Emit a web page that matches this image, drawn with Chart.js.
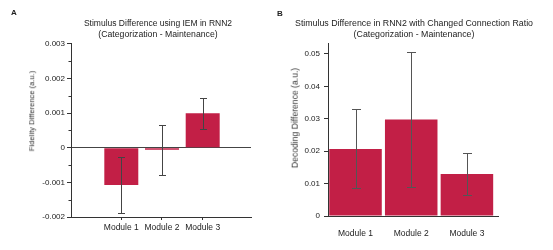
<!DOCTYPE html>
<html>
<head>
<meta charset="utf-8">
<script src="https://cdn.jsdelivr.net/npm/chart.js@4/dist/chart.umd.min.js"></script>
<style>
  body { margin: 0; background: #fff; }
  #wrap { position: relative; width: 553px; height: 250px; overflow: hidden;
          font-family: 'Liberation Sans', Arial, sans-serif; color: #222; }
  canvas { position: absolute; top: 0; }
  .t { position: absolute; white-space: nowrap; line-height: 1; transform: translate(-50%, -50%); }
  .rot { transform: translate(-50%, -50%) rotate(-90deg); }
</style>
</head>
<body>
<div id="wrap">
  <canvas id="chartA" width="276" height="250" style="left:0"></canvas>
  <canvas id="chartB" width="277" height="250" style="left:276px"></canvas>

  <div class="t" style="left:14px; top:13px; font-size:8px; font-weight:bold">A</div>
  <div class="t" style="left:158px; top:22.5px; font-size:8.5px">Stimulus Difference using IEM in RNN2</div>
  <div class="t" style="left:158px; top:33.5px; font-size:8.7px">(Categorization - Maintenance)</div>
  <div class="t rot" style="left:32px; top:111px; font-size:7.6px; color:#333">Fidelity Difference (a.u.)</div>

  <div class="t" style="left:280px; top:14px; font-size:8px; font-weight:bold">B</div>
  <div class="t" style="left:414px; top:22.5px; font-size:8.8px">Stimulus Difference in RNN2 with Changed Connection Ratio</div>
  <div class="t" style="left:414px; top:33.5px; font-size:8.8px">(Categorization - Maintenance)</div>
  <div class="t rot" style="left:295px; top:118px; font-size:8.6px; color:#333">Decoding Difference (a.u.)</div>
</div>

<script>
// データ
const categories = ['Module 1', 'Module 2', 'Module 3'];
const positions = [1, 2, 3];

const valuesA = [-0.00108, -0.00006, 0.00099];
const errorsA = [0.00081, 0.00072, 0.00044];
const yTicksA = [-0.002, -0.001, 0, 0.001, 0.002, 0.003];
const yMinorA = [-0.0015, -0.0005, 0.0005, 0.0015, 0.0025];

const valuesB = [0.0207, 0.0298, 0.0130];
const errorsB = [0.0122, 0.0209, 0.0064];
const yTicksB = [0, 0.01, 0.02, 0.03, 0.04, 0.05];

const barColor = '#c21f46';
const axisColor = '#333';
const tickFont = { family: "'Liberation Sans', Arial, sans-serif", size: 8 };

// エラーバーを描くプラグイン
const errorBars = {
    id: 'errorBars',
    afterDatasetsDraw(chart, args, opts) {
        const { ctx, scales: { x, y } } = chart;
        const data = chart.data.datasets[0].data;
        ctx.save();
        ctx.strokeStyle = opts.color;
        ctx.lineWidth = opts.width;
        data.forEach((d, i) => {
            const px = Math.round(x.getPixelForValue(d.x)) + 0.5;
            const hi = Math.round(y.getPixelForValue(d.y + opts.errors[i])) + 0.5;
            const lo = Math.round(y.getPixelForValue(d.y - opts.errors[i])) + 0.5;
            ctx.beginPath();
            ctx.moveTo(px, hi); ctx.lineTo(px, lo);
            ctx.moveTo(px - opts.cap, hi); ctx.lineTo(px + opts.cap, hi);
            ctx.moveTo(px - opts.cap, lo); ctx.lineTo(px + opts.cap, lo);
            ctx.stroke();
        });
        ctx.restore();
    }
};

// 小さい目盛り (Aのみ)
const minorTicks = {
    id: 'minorTicks',
    afterDraw(chart, args, opts) {
        if (!opts.values) return;
        const { ctx, scales: { y } } = chart;
        const left = y.right;
        ctx.save();
        ctx.strokeStyle = axisColor;
        ctx.lineWidth = 1;
        ctx.beginPath();
        opts.values.forEach(v => {
            const py = Math.round(y.getPixelForValue(v)) + 0.5;
            ctx.moveTo(left - opts.length, py);
            ctx.lineTo(left, py);
        });
        ctx.stroke();
        ctx.restore();
    }
};

function makeChart(id, cfg) {
    const ctx = document.getElementById(id).getContext('2d');
    return new Chart(ctx, {
        type: 'bar',
        data: {
            datasets: [{
                data: cfg.values.map((v, i) => ({ x: positions[i], y: v })),
                backgroundColor: barColor,
                borderWidth: 0,
                barPercentage: 1,
                categoryPercentage: cfg.barFrac,
            }]
        },
        options: {
            responsive: false,
            animation: false,
            layout: { padding: cfg.padding },
            plugins: {
                legend: { display: false },
                tooltip: { enabled: false },
                errorBars: { errors: cfg.errors, color: cfg.errColor, width: 1, cap: cfg.cap },
                minorTicks: { values: cfg.minor, length: 2.5 },
            },
            scales: {
                x: {
                    type: 'linear',
                    offset: false,
                    min: cfg.xMin,
                    max: cfg.xMax,
                    afterBuildTicks: s => { s.ticks = positions.map(v => ({ value: v })); },
                    afterFit: s => { s.height = cfg.xHeight; },
                    grid: cfg.xTicks
                        ? { offset: false, drawOnChartArea: false, tickLength: 3, tickColor: axisColor }
                        : { display: false },
                    border: { display: true, color: axisColor, width: 1 },
                    ticks: {
                        autoSkip: false, maxRotation: 0, padding: cfg.xPad,
                        color: '#222', font: { ...tickFont, size: 8.5 },
                        callback: v => categories[positions.indexOf(v)] || ''
                    }
                },
                y: {
                    min: cfg.yMin,
                    max: cfg.yMax,
                    afterBuildTicks: s => { s.ticks = cfg.yTicks.map(v => ({ value: v })); },
                    afterFit: s => { s.width = cfg.yWidth; },
                    grid: {
                        drawOnChartArea: true,
                        color: c => (cfg.zeroLine && c.tick && c.tick.value === 0) ? '#444' : 'rgba(0,0,0,0)',
                        tickColor: axisColor,
                        tickLength: 4,
                    },
                    border: { display: true, color: axisColor, width: 1 },
                    ticks: {
                        padding: cfg.yPad, color: '#222', font: tickFont,
                        callback: v => String(v)
                    }
                }
            }
        },
        plugins: [errorBars, minorTicks]
    });
}

makeChart('chartA', {
    values: valuesA, errors: errorsA, minor: yMinorA, yTicks: yTicksA,
    yMin: -0.002, yMax: 0.003,
    xMin: -0.236, xMax: 4.187, barFrac: 0.835,
    padding: { top: 43.7, left: 0, right: 25, bottom: 0 },
    yWidth: 71, xHeight: 33, xTicks: true, xPad: 3, yPad: 2,
    zeroLine: true, errColor: '#444', cap: 3.5
});

makeChart('chartB', {
    values: valuesB, errors: errorsB, minor: null, yTicks: yTicksB,
    yMin: 0, yMax: 0.0533,
    xMin: 0.506, xMax: 3.558, barFrac: 0.943,
    padding: { top: 43.3, left: 0, right: 55, bottom: 0 },
    yWidth: 52, xHeight: 34, xTicks: false, xPad: 5, yPad: 4,
    zeroLine: false, errColor: '#555', cap: 4.5
});
</script>
</body>
</html>
